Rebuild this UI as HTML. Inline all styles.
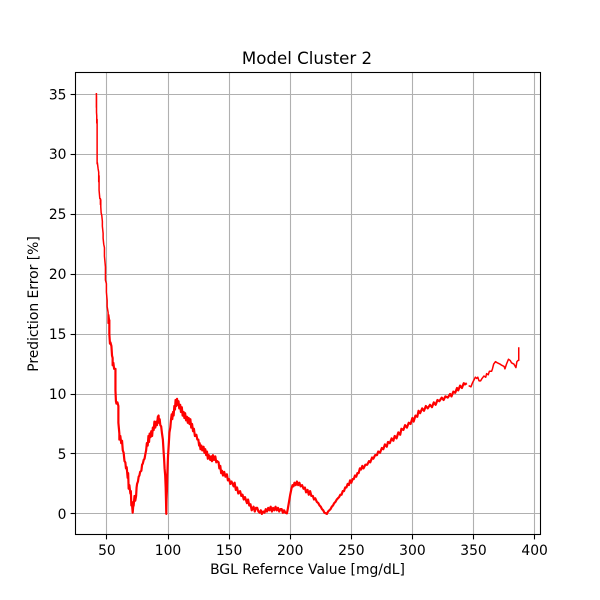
<!DOCTYPE html>
<html lang="en">
<head>
<meta charset="utf-8">
<title>Model Cluster 2</title>
<style>
html,body{margin:0;padding:0;background:#fff;}
svg{display:block;}
text{font-family:"DejaVu Sans","Liberation Sans",sans-serif;fill:#000;}
</style>
</head>
<body>
<svg id="chart" xmlns="http://www.w3.org/2000/svg" width="600" height="600" viewBox="0 0 600 600">
  <rect x="0" y="0" width="600" height="600" fill="#fff"></rect>
  <g id="grid"></g>
  <polyline id="series-thick" fill="none" stroke="#ff0000" stroke-width="2.2" stroke-linejoin="round"></polyline>
  <polyline id="series-start" fill="none" stroke="#ff0000" stroke-width="1.5" stroke-linejoin="round"></polyline>
  <polyline id="series-end" fill="none" stroke="#ff0000" stroke-width="1.5" stroke-linejoin="round"></polyline>
  <rect x="75.5" y="72.5" width="465" height="462" fill="none" stroke="#000" stroke-width="1.1"></rect>
  <g id="ticks"></g>
  <text x="307" y="64" font-size="16.67" text-anchor="middle">Model Cluster 2</text>
  <text x="307.5" y="574" font-size="13.89" text-anchor="middle">BGL Refernce Value [mg/dL]</text>
  <text x="0" y="0" font-size="13.89" text-anchor="middle" transform="translate(38 304) rotate(-90)">Prediction Error [%]</text>
</svg>
<script>
const xTickValues = [50, 100, 150, 200, 250, 300, 350, 400];
const yTickValues = [0, 5, 10, 15, 20, 25, 30, 35];
const bglValues = [
  41.4,41.4,41.5,41.5,41.7,41.7,42,42,42,42.2,
  42.8,43.3,43.3,43.6,43.6,44.2,44.7,44.7,45,45,
  45.3,45.8,46.3,46.3,46.9,46.9,47.4,48,48,48.8,
  48.8,49.6,49.6,50.2,50.2,51,51,51.5,52,52,
  52.5,52.9,53.7,54.2,54.7,54.7,55.3,55.9,57,57,
  57.4,57.8,58.6,59.4,59.4,60.2,60.2,61,61.7,62.4,
  63,63.7,64.4,65.1,65.6,66.2,67,67.4,67.8,68.4,
  69.2,69.6,70,70.4,71.1,71.5,71.9,72.6,73.2,73.9,
  74.3,74.7,75.4,76,76.6,77.2,78.2,78.8,79.4,80.1,
  80.8,81.5,82.1,82.7,83.4,84,84.5,85,85.7,86.3,
  87,87.6,88.3,88.9,89.6,90.5,91,91.7,92.3,92.6,
  93.2,93.7,94.4,95.1,95.8,96.4,96.8,97.2,97.7,98.1,
  98.4,98.6,98.8,99.1,99.4,100,100.5,101.2,101.9,102.5,
  103,103.5,104.1,104.6,105.2,105.7,106.2,106.8,107.4,107.9,
  108.6,109.2,110,110.6,111.3,112,112.8,113.4,114,114.8,
  115.6,116.2,116.9,117.6,118.3,119,119.7,120.5,121.2,122,
  123.2,124,124.8,125.5,125.9,126.6,127.3,128,129.1,129.8,
  130.5,131.2,131.9,132.6,133.4,134.6,135.3,136,136.8,137.6,
  138.7,139.5,140.3,141.4,142,142.8,143.5,144.2,145,146,
  147,148.2,149,150,151,152,153.7,154.5,155.5,156.5,
  157.5,159,160,161,162,163,164.6,165.5,166.5,167.5,
  168.5,170,171,172,173,174,175,176,176.8,178,
  179,180,181,182,183,184,185,186,187,188,
  189,190,191,192,193,194,195,196,197.3,198,
  199,200,201,201.9,202.7,203.5,204.5,205.5,206.5,207.5,
  208.5,209.7,210.9,212,213,214.2,215.2,216.3,217.3,218.5,
  219.5,220.5,221.8,223,224,225,226,227,228,229.2,
  230,231,232,233,234,235,236,237,238.1,239,
  240,241,242,243,244,245,246,247,248,249,
  250,251,252,253,254,255,256,257,258,259,
  260,261.5,263,264.5,265.5,267,268,269.5,271,272,
  273.5,275,276.2,277.5,279,280,281.5,283,284.4,285.5,
  287,288.5,290,291,292.6,294,295.5,297,298.5,300,
  301,302.5,304,305,306.3,308,309.5,311,312.5,314.4,
  316,317.5,319,320.5,322,324,325.5,327,329,330.8,
  332,333.5,335,336.5,337.5,339,340.5,342,343,344.5,
  346,347.9,349,350.5,351.5,352.6,353.5,354.5,355.8,357,
  358.5,360,360.7,362,363,364.8,365.5,366.5,368,369.5,
  371.6,373,375,375.7,377,378.6,380,381.1,383,384.7,
  385.5,386.5,387,387
];
const errorValues = [
  35.1,33.9,34.9,33.5,33.2,32.6,32.9,31,29.2,29.3,
  28.8,28.5,27.7,28.2,27,26.3,26.3,25.8,26.2,25.6,
  25.1,24.9,24.4,24,23.4,23,22.5,22.2,21.5,20.6,
  19.5,19.2,18.5,17.8,17.3,16.8,15.9,16.6,16.2,15,
  14.2,14.3,14,13.2,13,12.4,12.6,12.1,12.1,10.3,
  9.4,9.2,9.3,9,7.6,6.7,6.2,6.5,5.9,6.1,
  5.3,5.1,4.4,4.3,3.8,3.9,3,3.4,2.1,2.4,
  1.7,1.9,0.7,1,0.1,0.6,0.7,1.5,1.1,1.5,
  2.2,2.5,2.7,3.1,3.2,3.5,3.6,4.1,4.2,4.5,
  4.6,5,5.3,5.9,5.7,6.5,6,6.7,6.4,6.9,
  6.5,7.2,7,7.7,7.2,7.7,7.4,8.1,8.2,7.6,
  7.9,7.4,7.3,6.7,6.2,5.2,4.6,3.8,3.2,2.2,
  1,0,1.2,1.9,3.2,4.8,5.6,6.8,7.2,7.9,
  8.3,7.9,8.5,8.2,9,8.7,9.5,9,9.6,9.1,
  9.4,8.8,9.1,8.5,8.9,8.2,8.5,8,8.4,7.8,
  8.1,7.6,8,7.5,7.9,7.2,7.5,6.9,7.1,6.5,
  6.6,6.2,6.2,5.7,5.9,5.4,5.7,5.3,5.6,5.1,
  5.4,4.9,5.2,4.6,4.9,4.5,4.8,4.4,4.9,4.5,
  4.8,4.3,4.4,4.3,3.8,4,3.4,3.6,3.2,3.5,
  3.1,3.3,2.8,2.9,2.5,2.7,2.3,2.6,2,2.2,
  1.7,1.9,1.5,1.6,1.2,1.4,0.9,1.2,0.7,0.8,
  0.3,0.6,0.2,0.5,0.5,0.2,0.1,0.3,0,0.2,
  0.1,0.4,0.2,0.5,0.3,0.6,0.2,0.5,0.3,0.6,
  0.3,0.5,0.2,0.4,0.4,0.1,0.3,0.1,0.05,0.4,
  1,1.6,2.1,2.4,2.3,2.6,2.4,2.7,2.4,2.6,
  2.3,2.4,2.1,2.2,1.8,2,1.6,1.9,1.5,1.5,
  1.2,1.3,1,0.9,0.7,0.6,0.4,0.3,0.1,0.05,
  0,0.2,0.3,0.4,0.6,0.7,0.9,1,1.2,1.3,
  1.4,1.6,1.6,1.9,1.9,2.2,2.2,2.5,2.4,2.8,
  2.6,2.9,2.9,3.2,3.1,3.4,3.4,3.8,3.7,4,
  3.8,4.1,4.1,4.4,4.3,4.7,4.6,4.9,4.9,5.2,
  5.1,5.5,5.4,5.8,5.6,6,5.9,6.3,6.1,6.5,
  6.3,6.8,6.6,7.1,7,7.4,7.2,7.6,7.5,8,
  7.7,8.2,8.1,8.6,8.4,8.8,8.6,9,8.8,9.1,
  8.9,9.3,9.1,9.5,9.4,9.7,9.5,9.8,9.7,10,
  9.8,10.2,10.1,10.5,10.3,10.7,10.5,10.9,10.8,10.9,
  10.7,10.6,10.9,11.2,11.4,11.3,11.4,11.1,11.1,11.3,
  11.5,11.4,11.7,11.6,11.9,11.9,12.1,12.5,12.7,12.6,
  12.5,12.4,12.3,12.1,12.5,12.9,12.8,12.6,12.5,12.2,
  12.7,12.8,12.8,13.9
];

const SVG_NS = 'http://www.w3.org/2000/svg';
const plotLeft = 75, plotRight = 540, plotTop = 72, plotBottom = 534;
const xDomainMin = 23.9, xDomainMax = 404.4;
const yDomainMin = -1.676, yDomainMax = 36.856;
const denseStart = 52, denseEnd = 345;

function xScale(v) {
  return plotLeft + (v - xDomainMin) / (xDomainMax - xDomainMin) * (plotRight - plotLeft);
}
function yScale(v) {
  return plotBottom - (v - yDomainMin) / (yDomainMax - yDomainMin) * (plotBottom - plotTop);
}
function snapX(px) {
  return Math.floor(px) + 0.5;
}
function snapY(py) {
  return Math.ceil(py) - 0.5;
}
function makeLine(x1, y1, x2, y2, color) {
  const line = document.createElementNS(SVG_NS, 'line');
  line.setAttribute('x1', x1);
  line.setAttribute('y1', y1);
  line.setAttribute('x2', x2);
  line.setAttribute('y2', y2);
  line.setAttribute('stroke', color);
  line.setAttribute('stroke-width', '1.1');
  return line;
}

const gridGroup = document.getElementById('grid');
const tickGroup = document.getElementById('ticks');

xTickValues.forEach(function (value) {
  const px = xScale(value);
  const sx = snapX(px);
  const gridLine = makeLine(sx, plotTop, sx, plotBottom, '#b0b0b0');
  
  
  gridGroup.appendChild(gridLine);
  const tick = makeLine(sx, plotBottom + 0.5, sx, plotBottom + 5.4, '#000');
  
  
  tickGroup.appendChild(tick);
  const label = document.createElementNS(SVG_NS, 'text');
  
  
  label.setAttribute('x', px);
  label.setAttribute('y', plotBottom + 21);
  label.setAttribute('font-size', '13.89');
  label.setAttribute('text-anchor', 'middle');
  label.textContent = value;
  tickGroup.appendChild(label);
});

yTickValues.forEach(function (value) {
  const py = yScale(value);
  const sy = snapY(py);
  const gridLine = makeLine(plotLeft, sy, plotRight, sy, '#b0b0b0');
  
  
  gridGroup.appendChild(gridLine);
  const tick = makeLine(plotLeft - 4.4, sy, plotLeft + 0.5, sy, '#000');
  
  
  tickGroup.appendChild(tick);
  const label = document.createElementNS(SVG_NS, 'text');
  
  
  label.setAttribute('x', plotLeft - 8.5);
  label.setAttribute('y', py + 5);
  label.setAttribute('font-size', '13.89');
  label.setAttribute('text-anchor', 'end');
  label.textContent = value;
  tickGroup.appendChild(label);
});

function pointsBetween(low, high) {
  const out = [];
  bglValues.forEach(function (value, i) {
    if (value >= low && value <= high) {
      out.push(xScale(value).toFixed(2) + ',' + yScale(errorValues[i]).toFixed(2));
    }
  });
  return out.join(' ');
}
document.getElementById('series-start').setAttribute('points', pointsBetween(-Infinity, denseStart));
document.getElementById('series-thick').setAttribute('points', pointsBetween(denseStart, denseEnd));
document.getElementById('series-end').setAttribute('points', pointsBetween(denseEnd, Infinity));
</script>
</body>
</html>
